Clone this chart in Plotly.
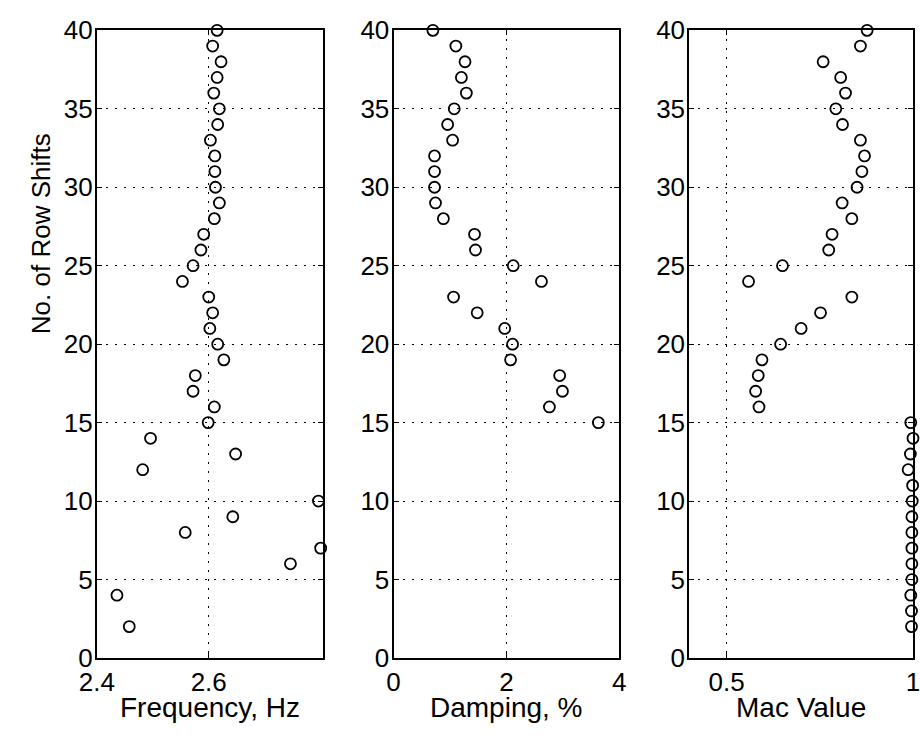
import plotly.graph_objects as go

# ---- data ----
freq_rows = [40, 39, 38, 37, 36, 35, 34, 33, 32, 31, 30, 29, 28, 27, 26, 25, 24, 23, 22, 21,
             20, 19, 18, 17, 16, 15, 14, 13, 12, 10, 9, 8, 7, 6, 4, 2]
freq_hz = [2.615, 2.607, 2.622, 2.615, 2.609, 2.619, 2.616, 2.603, 2.611, 2.611, 2.612, 2.619,
           2.610, 2.591, 2.586, 2.572, 2.553, 2.600, 2.607, 2.602, 2.616, 2.627, 2.576, 2.572,
           2.610, 2.599, 2.496, 2.648, 2.482, 2.796, 2.643, 2.558, 2.800, 2.746, 2.436, 2.458]

damp_rows = [40, 39, 38, 37, 36, 35, 34, 33, 32, 31, 30, 29, 28, 27, 26, 25, 24, 23, 22, 21,
             20, 19, 18, 17, 16, 15]
damp_pct = [0.698, 1.105, 1.267, 1.203, 1.291, 1.076, 0.959, 1.047, 0.727, 0.727, 0.727, 0.744,
            0.884, 1.436, 1.453, 2.122, 2.622, 1.064, 1.483, 1.971, 2.110, 2.075, 2.945, 2.994,
            2.763, 3.630]

mac_rows = [40, 39, 38, 37, 36, 35, 34, 33, 32, 31, 30, 29, 28, 27, 26, 25, 24, 23, 22, 21,
            20, 19, 18, 17, 16, 15, 14, 13, 12, 11, 10, 9, 8, 7, 6, 5, 4, 3, 2]
mac_val = [0.877, 0.859, 0.759, 0.806, 0.819, 0.793, 0.811, 0.859, 0.870, 0.863, 0.850, 0.810,
           0.836, 0.783, 0.774, 0.650, 0.559, 0.836, 0.752, 0.700, 0.645, 0.595, 0.585, 0.578,
           0.587, 0.994, 1.000, 0.993, 0.987, 0.999, 0.998, 0.997, 0.997, 0.997, 0.997, 0.997,
           0.994, 0.996, 0.996]

x_titles = ["Frequency, Hz", "Damping, %", "Mac Value"]
y_title = "No. of Row Shifts"
x_ticks = [[2.4, 2.6], [0, 2, 4], [0.5, 1]]
x_ticktext = [["2.4", "2.6"], ["0", "2", "4"], ["0.5", "1"]]
y_ticks = [0, 5, 10, 15, 20, 25, 30, 35, 40]

# ---- layout geometry ----
W, H = 920, 744
panels_px = [(81, 314), (386, 618), (690, 920)]
x_ranges = [[2.4, 2.805], [0, 4], [0.4, 1.0]]
top_px, bot_px = 16, 670
FONT = "Liberation Sans, Arial, Helvetica, sans-serif"

fig = go.Figure()
series = [(freq_hz, freq_rows), (damp_pct, damp_rows), (mac_val, mac_rows)]
for i, (xv, yv) in enumerate(series):
    sfx = "" if i == 0 else str(i + 1)
    fig.add_trace(go.Scatter(
        x=xv, y=yv, mode="markers",
        marker=dict(symbol="circle-open", size=11, color="black", line=dict(width=1.8, color="black")),
        xaxis="x" + sfx, yaxis="y" + sfx, showlegend=False, cliponaxis=False,
    ))

layout = dict(
    width=W, height=H, margin=dict(l=0, r=0, t=0, b=0),
    paper_bgcolor="white", plot_bgcolor="white",
    font=dict(family=FONT, color="black"),
    showlegend=False,
)
ydom = [1 - bot_px / H, 1 - top_px / H]
for i in range(3):
    sfx = "" if i == 0 else str(i + 1)
    l, r = panels_px[i]
    layout["xaxis" + sfx] = dict(
        domain=[l / W, r / W], range=x_ranges[i], anchor="y" + sfx,
        tickvals=x_ticks[i], ticktext=x_ticktext[i], ticklabeloverflow="allow",
        showgrid=True, gridcolor="black", gridwidth=1, griddash="2px,7px",
        showline=True, linecolor="black", linewidth=2, mirror="ticks",
        ticks="inside", ticklen=5, tickcolor="black", tickwidth=1,
        tickfont=dict(size=26, family=FONT, color="black"),
        zeroline=False, fixedrange=True,
    )
    layout["yaxis" + sfx] = dict(
        domain=ydom, range=[0, 40], anchor="x" + sfx,
        tickvals=y_ticks, ticklabeloverflow="allow", ticklabelstandoff=-3,
        showgrid=True, gridcolor="black", gridwidth=1, griddash="2px,7px",
        showline=True, linecolor="black", linewidth=2, mirror="ticks",
        ticks="inside", ticklen=5, tickcolor="black", tickwidth=1,
        tickfont=dict(size=26, family=FONT, color="black"),
        zeroline=False, fixedrange=True,
    )

annotations = []
for i, t in enumerate(x_titles):
    l, r = panels_px[i]
    annotations.append(dict(
        text=t, xref="paper", yref="paper", x=(l + r) / 2 / W, y=1 - 722 / H,
        xanchor="center", yanchor="middle", showarrow=False,
        font=dict(size=28, family=FONT, color="black"),
    ))
annotations.append(dict(
    text=y_title, xref="paper", yref="paper", x=23 / W, y=1 - 228 / H,
    xanchor="center", yanchor="middle", textangle=-90, showarrow=False,
    font=dict(size=26, family=FONT, color="black"),
))
layout["annotations"] = annotations

fig.update_layout(**layout)
fig.write_html("out.html")
